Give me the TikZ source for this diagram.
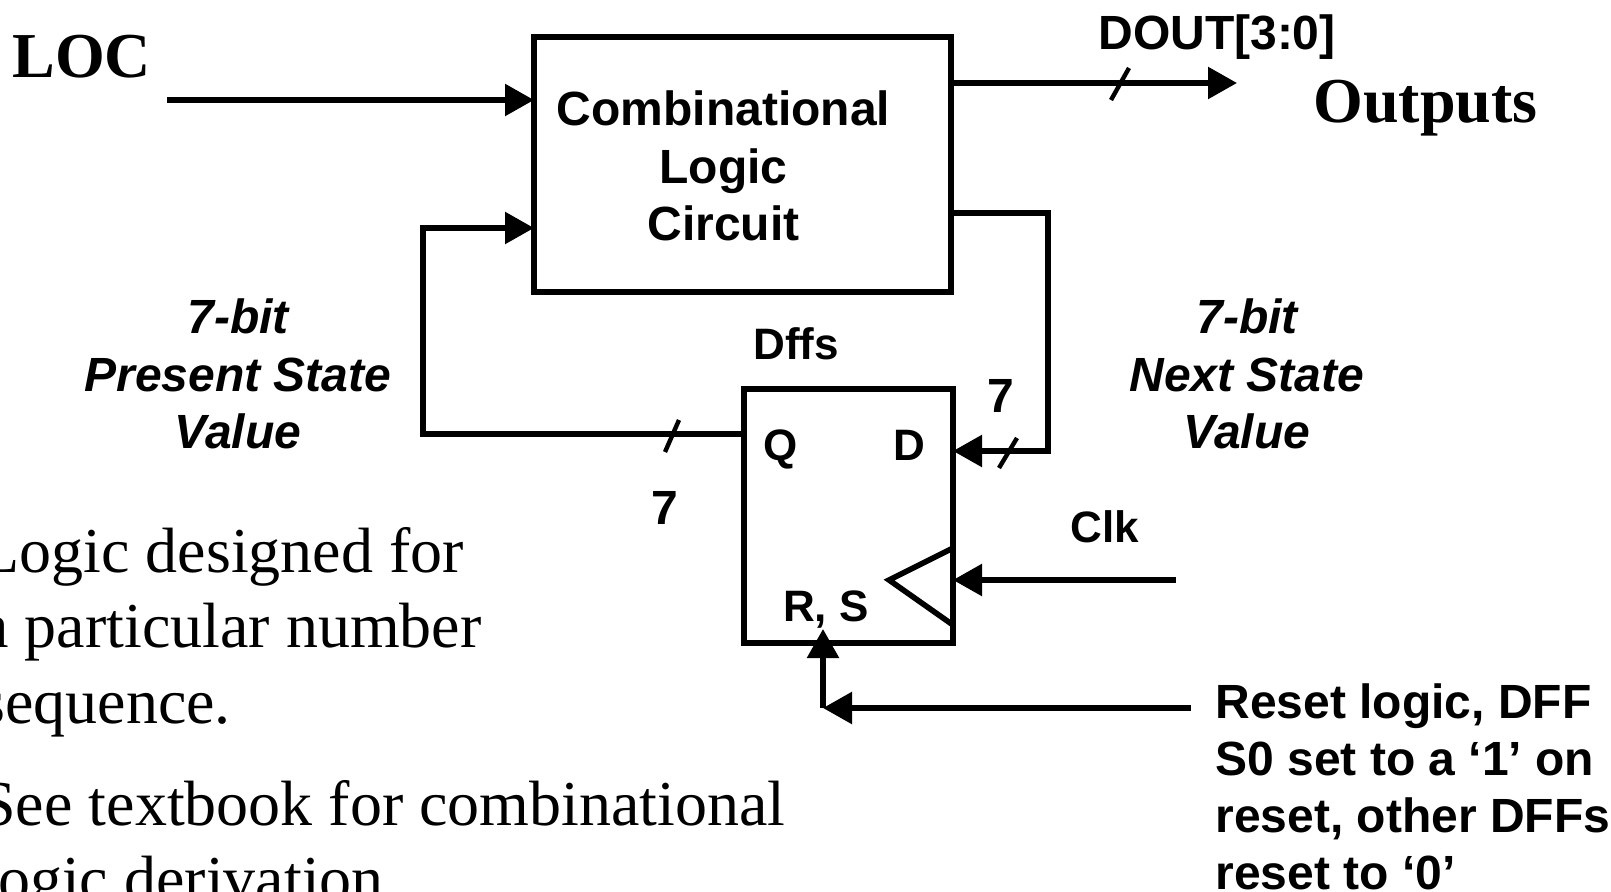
\documentclass[tikz,border=0pt]{standalone}
\usepackage{fontspec}
\setmainfont{Liberation Serif}
\newfontfamily\helv{Liberation Sans}
\usetikzlibrary{arrows.meta}

\begin{document}
\begin{tikzpicture}[x=0.5pt,y=-0.5pt,
  wire/.style={line width=2.8pt},
  arr/.style={-{Triangle[length=14.5pt,width=15.5pt]}},
  blk/.style={draw,line width=2.6pt,inner sep=0pt,outer sep=0pt},
  lbl/.style={inner sep=0pt,font=\helv\bfseries\fontsize{24pt}{28.75pt}\selectfont},
  pin/.style={inner sep=0pt,font=\helv\bfseries\fontsize{22pt}{26pt}\selectfont},
  ilbl/.style={inner sep=0pt,align=center,font=\helv\bfseries\itshape\fontsize{24pt}{28.75pt}\selectfont},
  rstlbl/.style={inner sep=0pt,align=left,font=\helv\bfseries\fontsize{24pt}{28.5pt}\selectfont},
  serifbig/.style={inner sep=0pt,font=\bfseries\fontsize{32pt}{38pt}\selectfont},
  body/.style={inner sep=0pt,align=left,font=\fontsize{32pt}{37.75pt}\selectfont},
  busmark/.style={line width=2.2pt}]

\useasboundingbox (0,0) rectangle (1611,892);
\fill[white] (0,0) rectangle (1611,892);

\begin{scope}
\clip (0,0) rectangle (1611,892);

% blocks
\node[blk,minimum width=208.5pt,minimum height=127.5pt] (clc) at (742.5,164.5) {};
\node[lbl,align=center] (clctext) at (723.5,166) {Combinational\\Logic\\Circuit};
\node[blk,minimum width=104.5pt,minimum height=127pt] (dff) at (848.5,516) {};

% flip-flop labels
\node[pin,anchor=base] (dffs) at (796,360) {Dffs};
\node[pin,anchor=base] (q) at (781,461) {Q};
\node[pin,anchor=base] (d) at (909,461) {D};
\node[pin,anchor=base] (rs) at (826,621) {R, S};
\node[pin,anchor=base] (clk) at (1105,543) {Clk};

% bus widths
\node[lbl,anchor=base] (w7a) at (1001,413) {7};
\node[lbl,anchor=base] (w7b) at (665,525) {7};
\node[lbl,anchor=base] (dout) at (1217,50) {DOUT[3:0]};

% inputs / outputs
\node[serifbig,anchor=base west] (loc) at (12,78) {LOC};
\node[serifbig,anchor=base west] (outs) at (1313,123) {Outputs};

% state descriptions
\node[ilbl] (ps) at (238,374) {7-bit\\Present State\\Value};
\node[ilbl] (ns) at (1247,374) {7-bit\\Next State\\Value};
\node[rstlbl,anchor=north west] (rsttxt) at (1215,683) {Reset logic, DFF\\S0 set to a ‘1’ on\\reset, other DFFs\\reset to ‘0’};

% notes
\node[body,anchor=north west] (b1) at (-20,527) {Logic designed for\\a particular number\\sequence.};
\node[body,anchor=north west] (b2) at (-20,780) {See textbook for combinational\\logic derivation};

% LOC input
\coordinate (locin) at (167,100);
\draw[wire,arr] (locin) -- (locin -| clc.west);

% DOUT output
\coordinate (doutend) at (1237,83);
\draw[wire,arr] (doutend -| clc.east) -- (doutend);

% next state path
\coordinate (nsT) at (1048,213);
\coordinate (nsB) at (1048,451);
\draw[wire,arr] (nsT -| clc.east) -- (nsT) -- (nsB) -- (nsB -| dff.east);

% present state feedback
\coordinate (psB) at (423,434);
\coordinate (psT) at (423,228);
\draw[wire,arr] (psB -| dff.west) -- (psB) -- (psT) -- (psT -| clc.west);

% clock
\coordinate (clkin) at (1176,580);
\coordinate (ckA) at (889,580);
\draw[wire,arr] (clkin) -- (clkin -| dff.east);
\draw[wire,line join=miter] ([yshift=16pt]ckA -| dff.east) -- (ckA) -- ([yshift=-22.5pt]ckA -| dff.east);

% reset
\coordinate (rstin) at (1191,708);
\coordinate (rstc) at (823,708);
\coordinate (rsttip) at (823,629);
\draw[wire,arr] (rstin) -- (rstc);
\draw[wire,arr] (rstc) -- (rsttip);

% bus slashes
\coordinate (m1) at (1120,84);
\coordinate (m2) at (1008,453);
\coordinate (m3) at (672,436);
\draw[busmark] (m1) ++(-9,16) -- ++(18,-32);
\draw[busmark] (m2) ++(-9,15) -- ++(18,-30);
\draw[busmark] (m3) ++(-7,16) -- ++(14,-32);
\end{scope}
\end{tikzpicture}
\end{document}
